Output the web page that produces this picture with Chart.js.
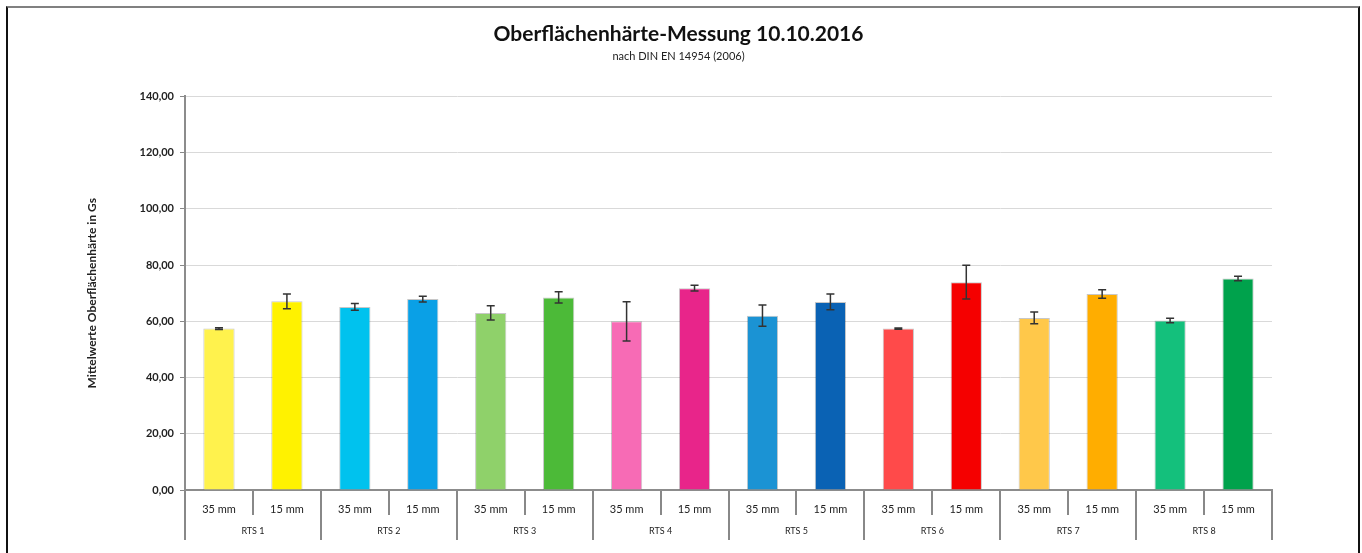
<!DOCTYPE html>
<html>
<head>
<meta charset="utf-8">
<script src="https://cdn.jsdelivr.net/npm/chart.js@4.4.0/dist/chart.umd.min.js"></script>
<style>
  html, body { margin: 0; padding: 0; background: #fff; }
  #wrap { position: relative; width: 1362px; height: 553px; }
  #frame { position: absolute; left: 6px; top: 6px; width: 1350px; height: 560px;
           border-top: 2px solid #808080; border-left: 2px solid #111; border-right: 2px solid #111; }
  canvas { position: absolute; left: 0; top: 0; }
</style>
</head>
<body>
<div id="wrap">
  <div id="frame"></div>
  <canvas id="chart" width="1362" height="553"></canvas>
</div>
<script>
// Gruppen und Messlängen
const groups = ["RTS 1", "RTS 2", "RTS 3", "RTS 4", "RTS 5", "RTS 6", "RTS 7", "RTS 8"];
const lengths = ["35 mm", "15 mm"];

// Mittelwerte
const values35 = [57.4, 65.1, 63.0, 60.0, 62.0, 57.4, 61.2, 60.3];
const values15 = [67.1, 67.9, 68.5, 71.8, 66.9, 73.9, 69.7, 75.2];

// Standardabweichung (+/-)
const err35 = [0.3, 1.2, 2.5, 7.0, 3.8, 0.2, 2.1, 0.8];
const err15 = [2.6, 1.0, 2.0, 1.0, 2.8, 6.0, 1.5, 0.8];

// Farben
const colors35 = ["#fff24d", "#00c2ee", "#8fd16a", "#f76bb5", "#1b93d4", "#ff4a4a", "#ffc84a", "#14c07c"];
const colors15 = ["#fff200", "#0aa0e6", "#4cba38", "#e8258a", "#0a62b4", "#f50000", "#ffad00", "#00a24c"];

// 16 Balken aufbauen
const labels = [], values = [], errors = [], colors = [];
groups.forEach((g, i) => {
  labels.push(lengths[0], lengths[1]);
  values.push(values35[i], values15[i]);
  errors.push(err35[i], err15[i]);
  colors.push(colors35[i], colors15[i]);
});

// Fehlerbalken
const errorBars = {
  id: "errorBars",
  afterDatasetsDraw(chart) {
    const ctx = chart.ctx;
    const y = chart.scales.y;
    const meta = chart.getDatasetMeta(0);
    ctx.save();
    ctx.strokeStyle = "#333";
    ctx.lineWidth = 1.5;
    meta.data.forEach((bar, i) => {
      const top = y.getPixelForValue(values[i] + errors[i]);
      const bot = y.getPixelForValue(values[i] - errors[i]);
      ctx.beginPath();
      ctx.moveTo(bar.x, top); ctx.lineTo(bar.x, bot);
      ctx.moveTo(bar.x - 4, top); ctx.lineTo(bar.x + 4, top);
      ctx.moveTo(bar.x - 4, bot); ctx.lineTo(bar.x + 4, bot);
      ctx.stroke();
    });
    ctx.restore();
  }
};

const ctx = document.getElementById("chart").getContext("2d");
const chart = new Chart(ctx, {
  type: "bar",
  data: {
    labels: labels,
    datasets: [{
      data: values,
      backgroundColor: colors,
      borderColor: "rgba(0,0,0,0.22)",
      borderWidth: 1,
      categoryPercentage: 1,
      barPercentage: 0.46
    }]
  },
  options: {
    responsive: false,
    animation: false,
    layout: { padding: { left: 85, right: 90, top: 0, bottom: 0 } },
    plugins: {
      legend: { display: false },
      tooltip: { enabled: false },
      title: {
        display: true,
        text: "Oberflächenhärte-Messung 10.10.2016",
        color: "#111",
        font: { family: "Lato", size: 21, weight: "bold" },
        padding: { top: 22, bottom: 2 }
      },
      subtitle: {
        display: true,
        text: "nach DIN EN 14954 (2006)",
        color: "#222",
        font: { family: "Lato", size: 11 },
        padding: { top: 1, bottom: 33 }
      }
    },
    scales: {
      y: {
        min: 0,
        max: 140,
        ticks: {
          stepSize: 20,
          color: "#222",
          padding: 6,
          font: { family: "Lato", size: 11, weight: "bold" },
          callback: v => v.toFixed(2).replace(".", ",")
        },
        grid: { color: "#d9d9d9", tickLength: 5, tickColor: "#888" },
        border: { color: "#8c8c8c", width: 2 },
        title: {
          display: true,
          text: "Mittelwerte Oberflächenhärte in Gs",
          color: "#222",
          font: { family: "Lato", size: 12, weight: "bold" },
          padding: { top: 0, bottom: 4 }
        },
        afterFit: s => { s.width = 100; }
      },
      x: {
        weight: 0,
        offset: true,
        ticks: {
          color: "#222",
          padding: -12,
          maxRotation: 0,
          autoSkip: false,
          font: { family: "Lato", size: 11 }
        },
        grid: { offset: true, drawOnChartArea: false, tickLength: 25, color: "#888", lineWidth: 2 },
        border: { color: "#8c8c8c", width: 2 },
        afterFit: s => { s.height = 25; }
      },
      x2: {
        type: "category",
        position: "bottom",
        weight: 1,
        labels: groups,
        offset: true,
        ticks: {
          color: "#222",
          padding: -14,
          maxRotation: 0,
          autoSkip: false,
          font: { family: "Lato", size: 9 }
        },
        grid: { offset: true, drawOnChartArea: false, tickLength: 25, color: "#888", lineWidth: 2 },
        border: { display: false },
        afterFit: s => { s.height = 38; }
      }
    }
  },
  plugins: [errorBars]
});
</script>
</body>
</html>
